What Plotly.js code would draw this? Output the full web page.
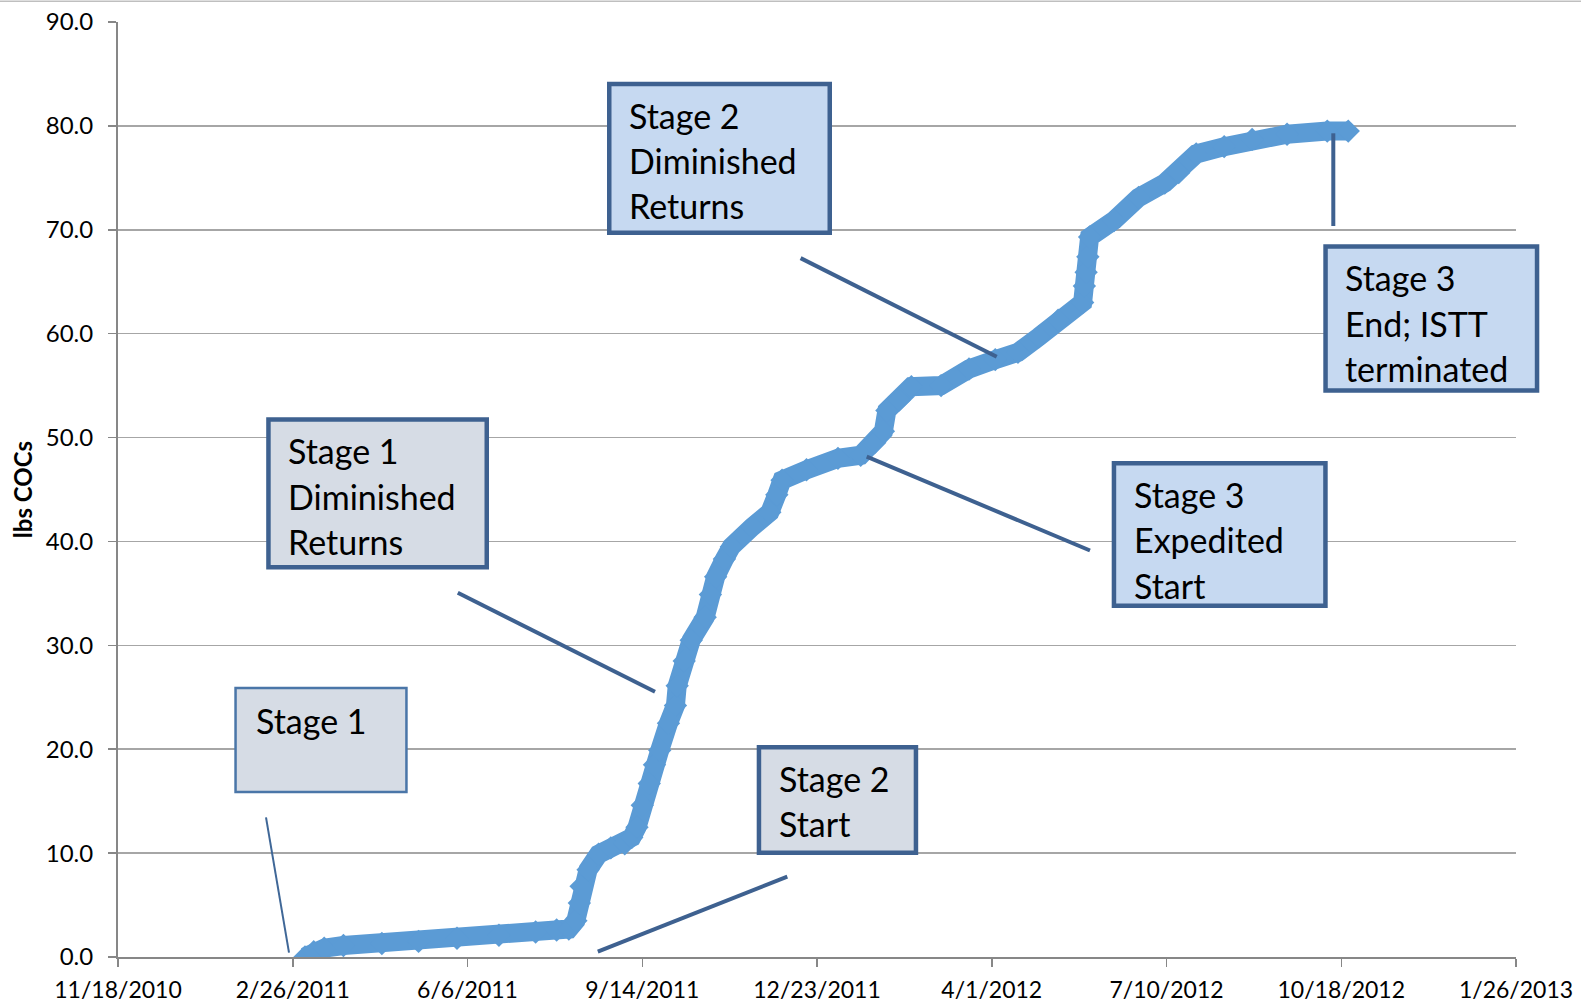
<!DOCTYPE html>
<html>
<head>
<meta charset="utf-8">
<script src="https://cdn.plot.ly/plotly-3.0.1.min.js"></script>
<style>html,body{margin:0;padding:0;background:#fff;}#chart{width:1581px;height:1007px;}</style>
</head>
<body>
<div id="chart"></div>
<script>
// ---- data ----
const dates = [
  '2011-03-05','2011-03-10','2011-03-16','2011-03-27','2011-04-18','2011-05-09','2011-05-31',
  '2011-06-24','2011-07-15','2011-07-27','2011-08-03','2011-08-07','2011-08-09','2011-08-10',
  '2011-08-14','2011-08-20','2011-08-27','2011-09-04','2011-09-08','2011-09-11','2011-09-14',
  '2011-09-18','2011-09-21','2011-09-24','2011-09-29','2011-10-03','2011-10-04','2011-10-08',
  '2011-10-12','2011-10-20','2011-10-23','2011-10-26','2011-10-31','2011-11-04','2011-11-16',
  '2011-11-26','2011-11-30','2011-12-03','2011-12-17','2012-01-04','2012-01-17','2012-01-25',
  '2012-01-30','2012-02-01','2012-02-08','2012-02-15','2012-03-03','2012-03-19','2012-04-03',
  '2012-04-16','2012-04-28','2012-05-09','2012-05-23','2012-05-24','2012-05-25','2012-05-26',
  '2012-05-27','2012-06-10','2012-06-24','2012-07-09','2012-07-17','2012-07-27','2012-08-12',
  '2012-08-28','2012-09-17','2012-10-10','2012-10-22'
];
const lbsCOCs = [
  0.0, 0.5, 0.85, 1.1, 1.3, 1.5, 1.8,
  2.1, 2.4, 2.6, 2.7, 3.5, 5.2, 6.8,
  8.4, 9.9, 10.5, 10.9, 11.5, 12.5, 14.6,
  16.7, 18.5, 19.9, 22.5, 24.2, 26.1, 28.5,
  30.5, 32.7, 34.9, 36.6, 38.3, 39.5, 41.4,
  42.8, 44.5, 45.9, 46.9, 48.0, 48.3, 49.5,
  50.6, 52.6, 53.6, 54.9, 55.0, 56.6, 57.5,
  58.2, 59.7, 61.3, 63.0, 64.6, 65.9, 67.4,
  69.3, 70.9, 73.1, 74.5, 75.5, 77.3, 78.0,
  78.7, 79.2, 79.5, 79.5
];
const yAxisTitle = 'lbs COCs';
const boxTexts = [
  ['Stage 1'],
  ['Stage 2', 'Start'],
  ['Stage 1', 'Diminished', 'Returns'],
  ['Stage 2', 'Diminished', 'Returns'],
  ['Stage 3', 'Expedited', 'Start'],
  ['Stage 3', 'End; ISTT', 'terminated']
];

// ---- layout helpers (pixel -> paper) ----
const W = 1581, H = 1007;
const M = {l: 118, r: 65, t: 22, b: 50};
const PW = W - M.l - M.r, PH = H - M.t - M.b;
const px = x => (x - M.l) / PW;
const py = y => (H - M.b - y) / PH;

const FONT = 'Lato, "Open Sans", sans-serif';
const BOXFONT = 34;

// box geometry (outer edges in px), styles
const boxes = [
  {x0: 234.3, x1: 407.7, y0: 686.7, y1: 793.3, bw: 2.5, line: '#4a76a8', fill: '#d6dce5'},
  {x0: 756.7, x1: 918.2, y0: 745.0, y1: 855.0, bw: 4.5, line: '#3e6190', fill: '#d6dce5'},
  {x0: 266.2, x1: 489.0, y0: 417.3, y1: 569.6, bw: 4.5, line: '#3e6190', fill: '#d6dce5'},
  {x0: 607.0, x1: 832.0, y0: 81.7,  y1: 235.0, bw: 4.5, line: '#3e6190', fill: '#c6d9f1'},
  {x0: 1111.7, x1: 1327.7, y0: 461.0, y1: 608.0, bw: 4.5, line: '#3e6190', fill: '#c6d9f1'},
  {x0: 1323.3, x1: 1539.3, y0: 244.3, y1: 392.7, bw: 4.5, line: '#3e6190', fill: '#c6d9f1'}
];
const leaders = [
  {x0: 266, y0: 817.3, x1: 289, y1: 952.7, w: 2, c: '#3f6797'},
  {x0: 597.8, y0: 951.7, x1: 787.3, y1: 876.7, w: 4, c: '#3e6190'},
  {x0: 457.8, y0: 592.8, x1: 655, y1: 691.7, w: 4, c: '#3e6190'},
  {x0: 800.6, y0: 258.1, x1: 996.7, y1: 356.7, w: 4, c: '#3e6190'},
  {x0: 866.7, y0: 456.7, x1: 1090, y1: 550.5, w: 4, c: '#3e6190'},
  {x0: 1333.3, y0: 133.3, x1: 1333.3, y1: 226, w: 4, c: '#3e6190'}
];

const shapes = [];
const annotations = [];

// top border line of the chart area
shapes.push({type: 'line', xref: 'paper', yref: 'paper', x0: px(0), x1: px(W), y0: py(1.2), y1: py(1.2),
  line: {color: '#bfbfbf', width: 1.5}});

boxes.forEach((b, i) => {
  const h = b.bw / 2;
  shapes.push({type: 'rect', xref: 'paper', yref: 'paper', layer: 'above',
    x0: px(b.x0 + h), x1: px(b.x1 - h), y0: py(b.y1 - h), y1: py(b.y0 + h),
    fillcolor: b.fill, line: {color: b.line, width: b.bw}});
  const left = b.x0 + 21;
  const base0 = b.y0 + 46.8;
  boxTexts[i].forEach((t, j) => {
    const base = base0 + j * 45.2;
    annotations.push({xref: 'paper', yref: 'paper', x: px(left), y: py(base - 0.387 * BOXFONT),
      xanchor: 'left', yanchor: 'middle', showarrow: false, borderpad: 0, text: t,
      font: {family: FONT, size: BOXFONT, color: '#000'}});
  });
});
leaders.forEach(l => {
  shapes.push({type: 'line', xref: 'paper', yref: 'paper', layer: 'above',
    x0: px(l.x0), y0: py(l.y0), x1: px(l.x1), y1: py(l.y1),
    line: {color: l.c, width: l.w}});
});

const trace = {
  type: 'scatter', mode: 'lines+markers', x: dates, y: lbsCOCs,
  line: {color: '#5b9bd5', width: 19},
  marker: {symbol: 'diamond', size: 18, color: '#5b9bd5', line: {width: 0}},
  hoverinfo: 'skip', showlegend: false
};

const layout = {
  width: W, height: H,
  margin: M,
  paper_bgcolor: '#ffffff', plot_bgcolor: '#ffffff',
  showlegend: false,
  font: {family: FONT, color: '#000'},
  xaxis: {
    type: 'date', range: ['2010-11-18', '2013-01-26'],
    tick0: '2010-11-18', dtick: 100 * 86400000, tickformat: '%-m/%-d/%Y',
    showgrid: false, zeroline: false,
    showline: true, linecolor: '#878787', linewidth: 2,
    ticks: 'outside', ticklen: 8, tickwidth: 1.5, tickcolor: '#878787',
    ticklabelstandoff: 3,
    tickfont: {family: FONT, size: 23, color: '#000'}
  },
  yaxis: {
    range: [0, 90], dtick: 10, tick0: 0, tickformat: '.1f',
    showgrid: true, gridcolor: '#a6a6a6', gridwidth: 1.5, zeroline: false,
    showline: true, linecolor: '#878787', linewidth: 2,
    ticks: 'outside', ticklen: 8, tickwidth: 1.5, tickcolor: '#878787',
    ticklabelstandoff: 10,
    tickfont: {family: FONT, size: 24, color: '#000'},
    title: {text: '<b>' + yAxisTitle + '</b>', standoff: 6,
      font: {family: FONT, size: 24, color: '#000'}}
  },
  shapes: shapes,
  annotations: annotations
};

Plotly.newPlot('chart', [trace], layout, {staticPlot: true, displayModeBar: false});
</script>
</body>
</html>
